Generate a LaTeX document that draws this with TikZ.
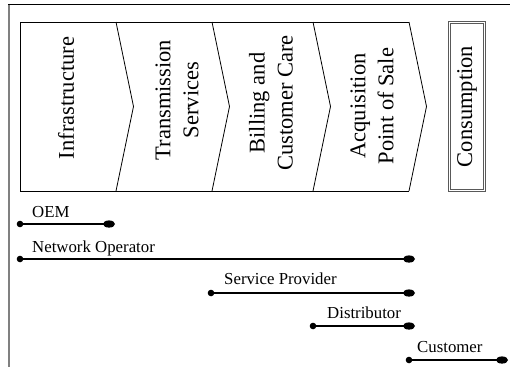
\documentclass[tikz,border=0pt]{standalone}
\usepackage{fontspec}
\setmainfont{Liberation Serif}
\begin{document}
\begin{tikzpicture}[x=1pt,y=-1pt,
  vlab/.style={rotate=90, font=\fontsize{22.5}{28}\selectfont, align=center, inner sep=0pt},
  hlab/.style={font=\fontsize{16.8}{19}\selectfont, anchor=base west, inner sep=0pt},
  bar/.style={line width=2pt},
  chev/.style={line width=0.8pt},
  cbox/.style={rotate=90, draw=gray!70!black, double=white, double distance=1.4pt, line width=0.9pt,
    minimum width=168pt, minimum height=35pt, inner sep=0pt, font=\fontsize{22.5}{28}\selectfont}]
\useasboundingbox (0,0) rectangle (510,368);
% frame
\draw[gray, line width=2.5pt] (9,3.5) -- (9,367);
\draw[line width=1.3pt] (8,4.5) -- (510,4.5);
% value chain chevrons
\draw[chev] (409,22) -- (20,22) -- (20,191) -- (409,191);
\foreach \a in {116,212,313,409}
  \draw[chev] (\a,22) -- (\a+17.5,106.5) -- (\a,191);
\node[vlab] (infra) at (66,98) {Infrastructure};
\node[vlab] (trans) at (177,100) {Transmission\\Services};
\node[vlab] (bill) at (271,103) {Billing and\\Customer Care};
\node[vlab] (acq) at (372,106) {Acquisition\\Point of Sale};
\node[cbox] (cons) at (467,106.5) {Consumption};
% actor bars
\coordinate (oemL) at (20,224);   \coordinate (oemR) at (109,224);
\coordinate (netL) at (20,259);   \coordinate (netR) at (409,259);
\coordinate (spL) at (211,293);   \coordinate (spR) at (409,293);
\coordinate (disL) at (313,326);  \coordinate (disR) at (409,326);
\coordinate (cusL) at (409,360);  \coordinate (cusR) at (502,360);
\foreach \l/\r in {oemL/oemR, netL/netR, spL/spR, disL/disR, cusL/cusR}{
  \draw[bar] (\l) -- (\r);
  \fill (\l) circle (3.3pt);
  \fill (\r) ellipse (6pt and 3.6pt);
}
\node[hlab] (oem) at (32,217) {OEM};
\node[hlab] (net) at (32,252) {Network Operator};
\node[hlab] (sp) at (224,284) {Service Provider};
\node[hlab] (dis) at (327,318) {Distributor};
\node[hlab] (cus) at (417,352) {Customer};
\end{tikzpicture}
\end{document}
